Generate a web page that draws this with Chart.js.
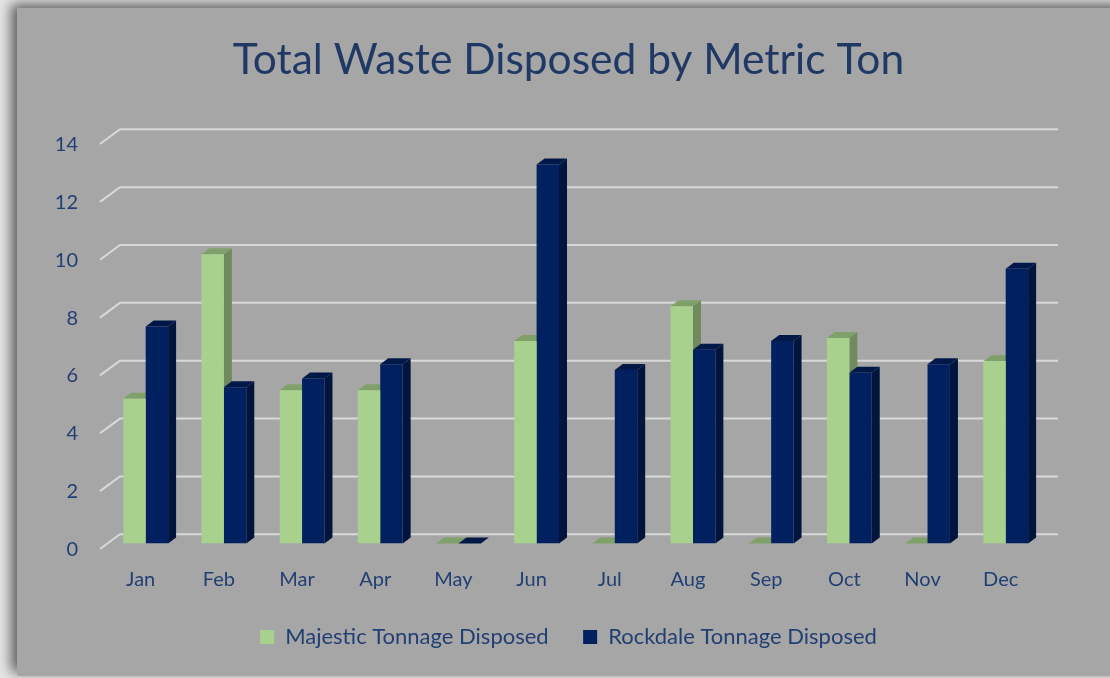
<!DOCTYPE html>
<html>
<head>
<meta charset="utf-8">
<script src="https://cdn.jsdelivr.net/npm/chart.js@4.4.1/dist/chart.umd.min.js"></script>
<style>
  html, body { margin: 0; padding: 0; background: #e6e6e6; overflow: hidden; }
  #frame { position: absolute; left: 17px; top: 8px; width: 1110px; height: 668px;
           background: #a6a6a6; box-shadow: -6px -4px 12px rgba(0,0,0,0.6); }
  #wrap { position: absolute; left: 0; top: 0; width: 1110px; height: 678px; }
</style>
</head>
<body>
<div id="frame"></div>
<div id="wrap"><canvas id="c" width="1110" height="678"></canvas></div>
<script>
const categories = ['Jan', 'Feb', 'Mar', 'Apr', 'May', 'Jun', 'Jul', 'Aug', 'Sep', 'Oct', 'Nov', 'Dec'];
const majestic = [5.0, 10.0, 5.3, 5.3, 0, 7.0, 0, 8.2, 0, 7.1, 0, 6.3];
const rockdale = [7.5, 5.4, 5.7, 6.2, 0, 13.1, 6.0, 6.7, 7.0, 5.9, 6.2, 9.5];
const yTickValues = [0, 2, 4, 6, 8, 10, 12, 14];
const seriesNames = ['Majestic Tonnage Disposed', 'Rockdale Tonnage Disposed'];

const FONT = 'Lato';
const TEXT_COLOR = '#223f74';
const FRONT = ['#a9d18e', '#002060'];
const SIDE = ['#6f8a5c', '#00143c'];
const TOP = ['#80a06a', '#001848'];
const DX = 8, DY = 6;

const backdrop3D = {
  id: 'backdrop3D',
  beforeDatasetsDraw(chart) {
    const ctx = chart.ctx;
    const ys = chart.scales.y;
    const area = chart.chartArea;
    ctx.save();
    ctx.strokeStyle = '#d9d9d9';
    ctx.lineWidth = 2;
    yTickValues.forEach(v => {
      const y = ys.getPixelForValue(v);
      ctx.beginPath();
      ctx.moveTo(area.left - 6.6, y + 5.5);
      ctx.lineTo(area.left + 13.4, y - 9.2);
      ctx.lineTo(area.right + 13.2, y - 9.2);
      ctx.stroke();
    });
    chart.data.datasets.forEach((ds, di) => {
      const meta = chart.getDatasetMeta(di);
      meta.data.forEach(el => {
        const p = el.getProps(['x', 'y', 'base', 'width'], true);
        const l = p.x - p.width / 2, r = p.x + p.width / 2;
        const top = Math.min(p.y, p.base), bot = Math.max(p.y, p.base);
        ctx.fillStyle = SIDE[di];
        ctx.beginPath();
        ctx.moveTo(r, top); ctx.lineTo(r + DX, top - DY);
        ctx.lineTo(r + DX, bot - DY); ctx.lineTo(r, bot);
        ctx.closePath(); ctx.fill();
        ctx.fillStyle = TOP[di];
        ctx.beginPath();
        ctx.moveTo(l, top); ctx.lineTo(l + DX, top - DY);
        ctx.lineTo(r + DX, top - DY); ctx.lineTo(r, top);
        ctx.closePath(); ctx.fill();
      });
    });
    ctx.restore();
  }
};

new Chart(document.getElementById('c'), {
  type: 'bar',
  data: {
    labels: categories,
    datasets: [
      { label: seriesNames[0], data: majestic, backgroundColor: FRONT[0], borderWidth: 0, yAxisID: 'y' },
      { label: seriesNames[1], data: rockdale, backgroundColor: FRONT[1], borderWidth: 0, yAxisID: 'y' }
    ]
  },
  options: {
    responsive: false,
    animation: false,
    events: [],
    categoryPercentage: 0.573,
    barPercentage: 1.0,
    layout: { padding: { left: 50, right: 23, top: 0, bottom: 20 } },
    plugins: {
      title: {
        display: true,
        text: 'Total Waste Disposed by Metric Ton',
        color: '#203864',
        font: { family: FONT, size: 42.5, weight: 'normal', lineHeight: 1.2 },
        padding: { top: 35, bottom: 52.5 }
      },
      legend: {
        position: 'bottom',
        labels: {
          boxWidth: 14, boxHeight: 14, padding: 34.5,
          color: TEXT_COLOR,
          font: { family: FONT, size: 22 }
        }
      },
      tooltip: { enabled: false }
    },
    scales: {
      x: {
        grid: { display: false, drawTicks: false },
        border: { display: false },
        ticks: { color: TEXT_COLOR, font: { family: FONT, size: 20 }, padding: 24, labelOffset: -5, maxRotation: 0 },
        afterFit(s) { s.height = 48; }
      },
      y: {
        position: 'left',
        min: 0, max: 14,
        grid: { display: false, drawTicks: false },
        border: { display: false },
        ticks: { stepSize: 2, color: TEXT_COLOR, font: { family: FONT, size: 20 }, padding: 28.6, labelOffset: 6 },
        afterFit(s) { s.width = 56.6; }
      },
      yRight: {
        position: 'right',
        display: true,
        grid: { display: false, drawTicks: false },
        border: { display: false },
        ticks: { display: false },
        afterFit(s) { s.width = 42.2; }
      }
    }
  },
  plugins: [backdrop3D]
});
</script>
</body>
</html>
